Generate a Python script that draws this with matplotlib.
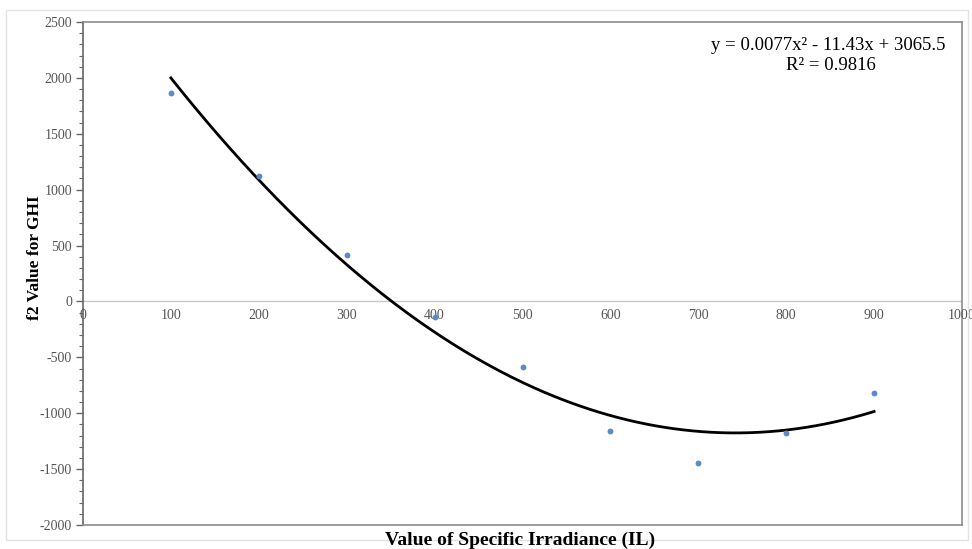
import numpy as np
import matplotlib.pyplot as plt
from matplotlib.patches import Rectangle
from matplotlib.ticker import MultipleLocator

# data
irradiance = [100, 200, 300, 400, 500, 600, 700, 800, 900]
f2_values = [1866, 1120, 415, -140, -586, -1160, -1447, -1178, -815]

# trendline coefficients as printed on the chart
a2, a1, a0 = 0.0077, -11.43, 3065.5
eq_text = "y = 0.0077x\u00b2 - 11.43x + 3065.5"
r2_text = "R\u00b2 = 0.9816"

x_ticks = [0, 100, 200, 300, 400, 500, 600, 700, 800, 900, 1000]
y_ticks = [-2000, -1500, -1000, -500, 0, 500, 1000, 1500, 2000, 2500]

plt.rcParams['font.family'] = ['Liberation Serif', 'DejaVu Serif']
plt.rcParams['axes.unicode_minus'] = False

W, H = 972, 549
fig = plt.figure(figsize=(W / 100, H / 100), dpi=100)
ax = fig.add_axes([83 / W, 1 - 525 / H, (962 - 83) / W, (525 - 22) / H])

# outer chart-area frame
fig.patches.append(Rectangle((6 / W, 1 - 540 / H), (968 - 6) / W, (540 - 10) / H,
                             transform=fig.transFigure, fill=False,
                             edgecolor='#e2e2e2', linewidth=1.0))

ax.set_xlim(0, 1000)
ax.set_ylim(-2000, 2500)

xs = np.linspace(irradiance[0], irradiance[-1], 300)
ax.plot(xs, a2 * xs**2 + a1 * xs + a0, color='black', linewidth=2.0, zorder=3)
ax.scatter(irradiance, f2_values, s=18, color='#5b8bc7', zorder=4, linewidths=0)

# horizontal axis drawn through y = 0
ax.axhline(0, color='#c8c8c8', linewidth=1.0, zorder=1)

for side in ['top', 'right', 'bottom']:
    ax.spines[side].set_color('#8c8c8c')
    ax.spines[side].set_linewidth(1.2)
ax.spines['left'].set_color('#666666')
ax.spines['left'].set_linewidth(1.2)

ax.set_yticks(y_ticks)
ax.yaxis.set_minor_locator(MultipleLocator(100))
ax.tick_params(axis='y', which='major', length=5, width=1, color='#666666',
               labelsize=10, labelcolor='#555555', pad=3)
ax.tick_params(axis='y', which='minor', length=3, width=0.8, color='#666666')

ax.set_xticks([])
for xv in x_ticks:
    ax.text(xv, -70, str(xv), ha='center', va='top', fontsize=10, color='#555555')

fig.text(35 / W, 1 - 258 / H, 'f2 Value for GHI', rotation=90, ha='center',
         va='center', fontsize=12.5, fontweight='bold')
fig.text(520 / W, 1 - 540 / H, 'Value of Specific Irradiance (IL)', ha='center',
         va='center', fontsize=14, fontweight='bold')

fig.text(945 / W, 1 - 45 / H, eq_text, ha='right', va='center', fontsize=13.5)
fig.text(831 / W, 1 - 66 / H, r2_text, ha='center', va='center', fontsize=13.5)

fig.savefig('out.png', dpi=100)
